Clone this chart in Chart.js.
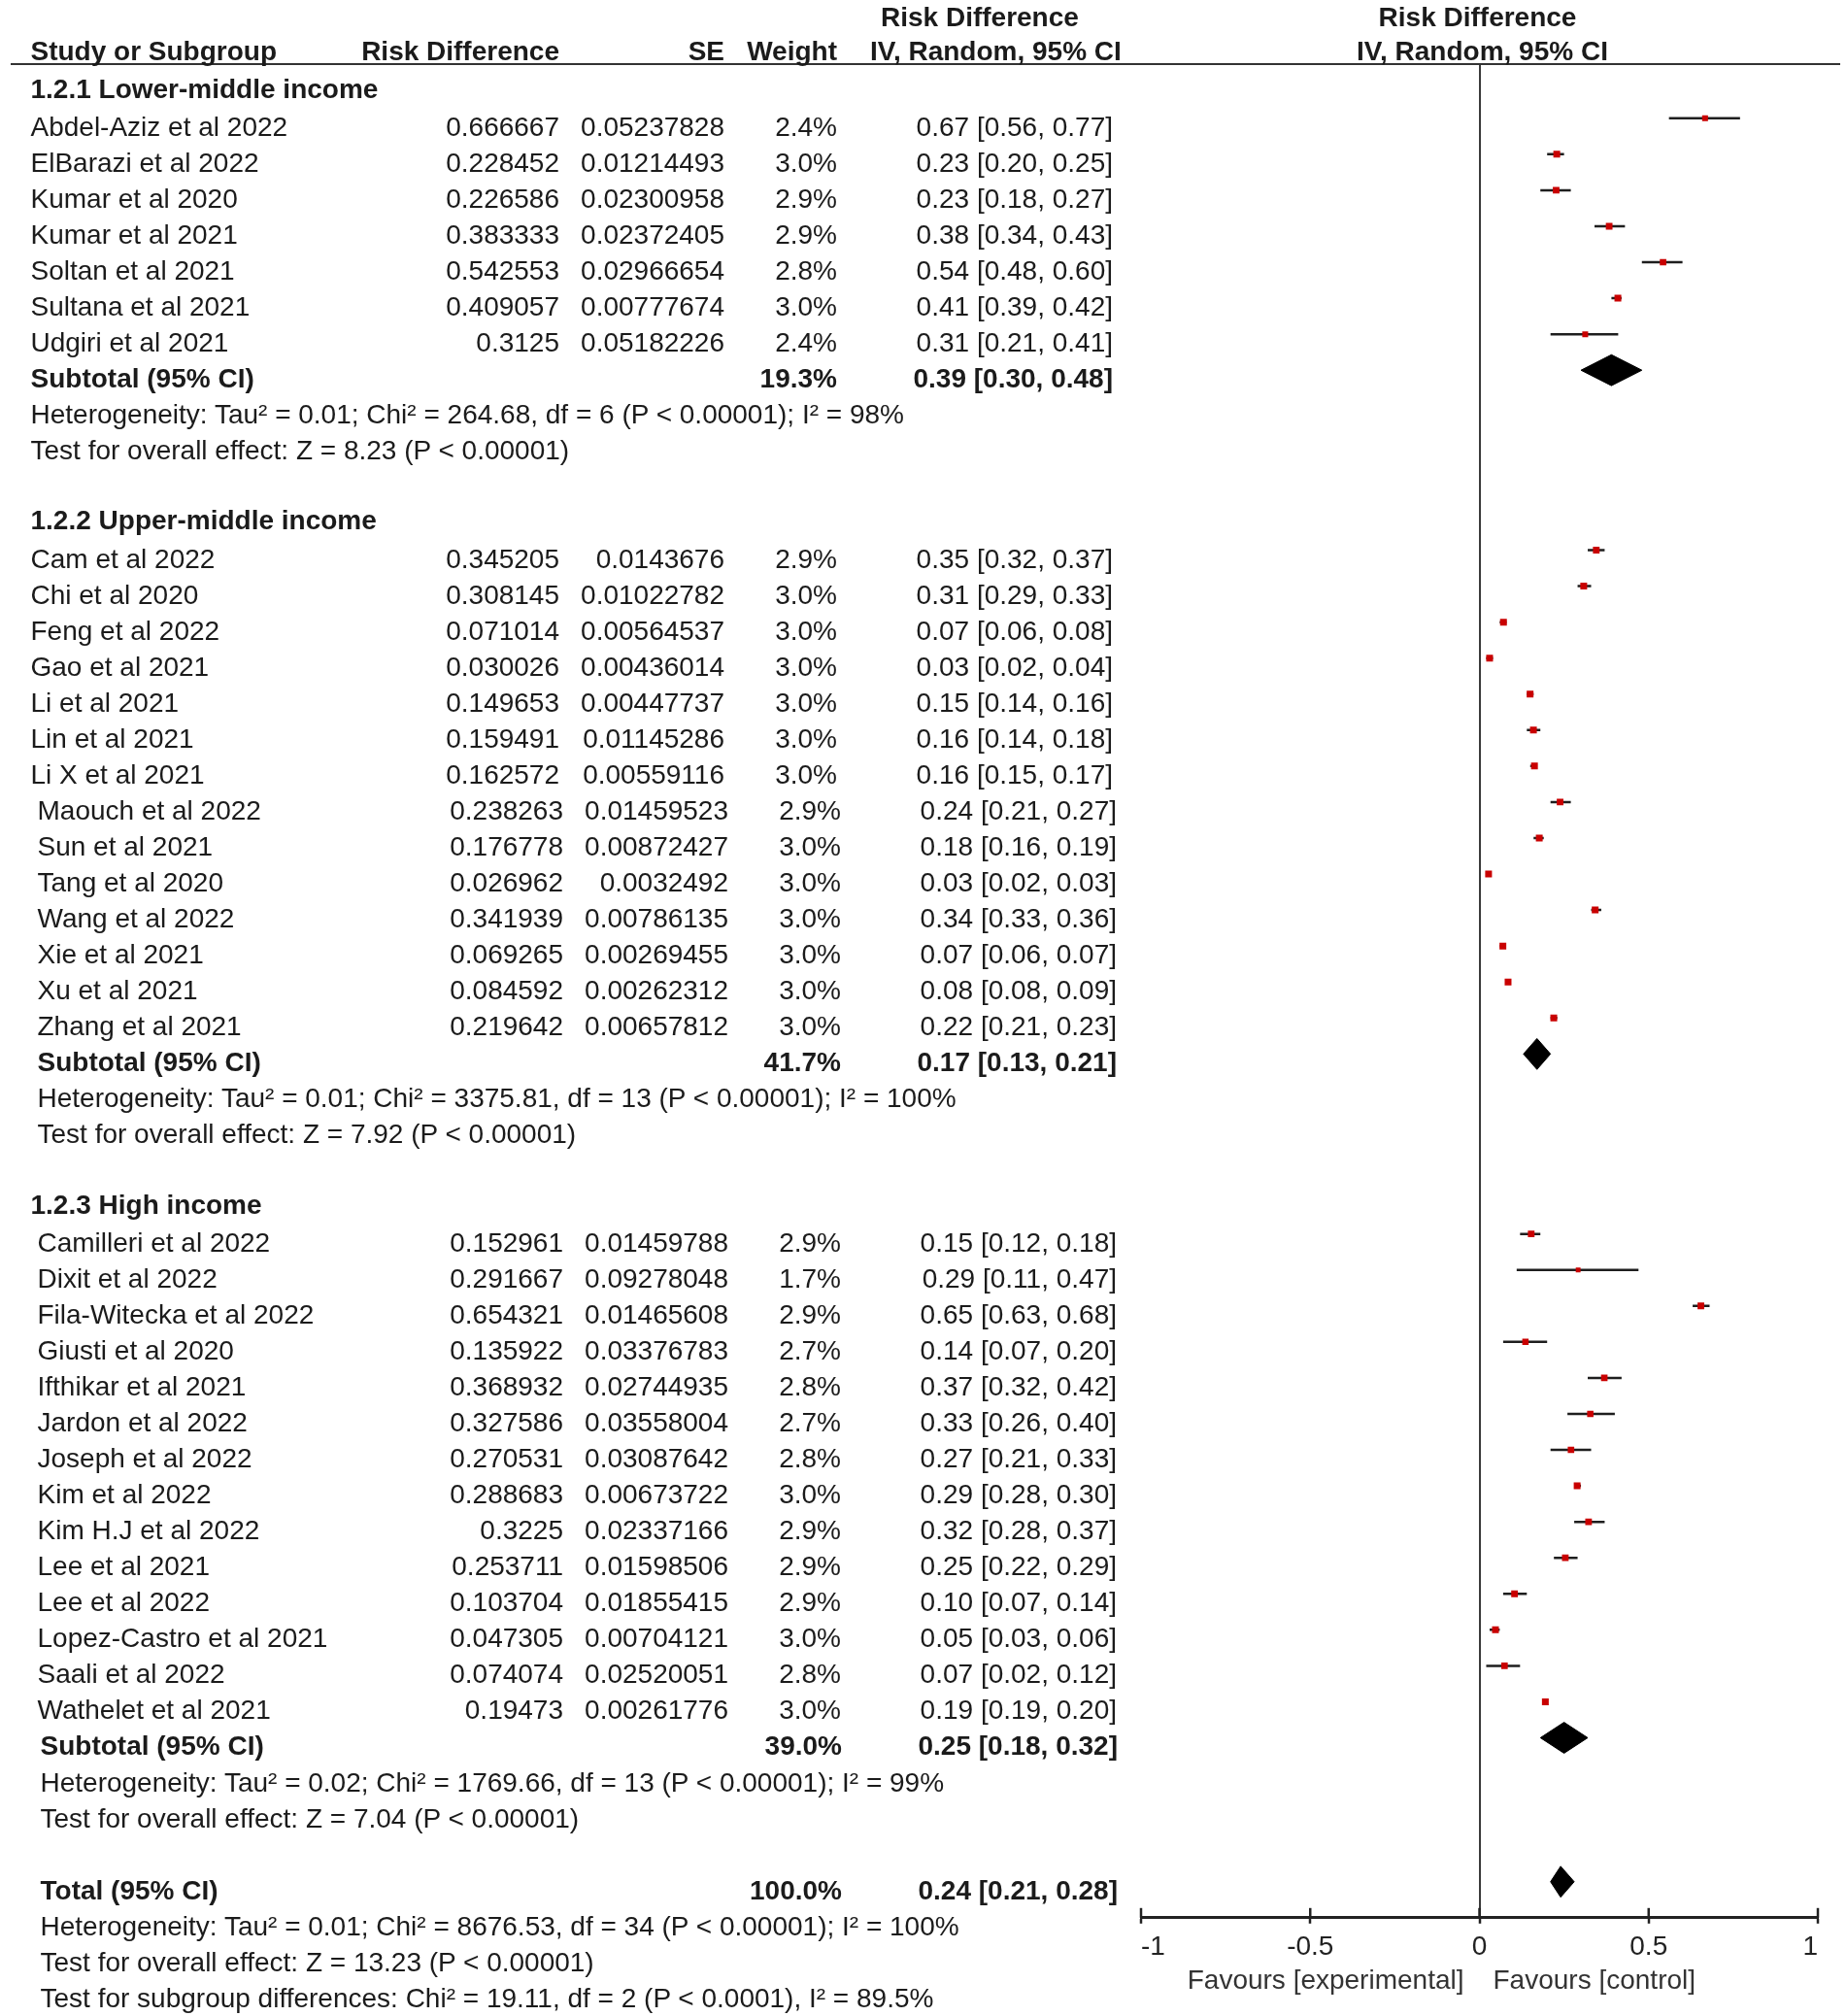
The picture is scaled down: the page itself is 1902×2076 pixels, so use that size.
<!DOCTYPE html>
<html>
<head>
<meta charset="utf-8">
<script src="https://cdn.jsdelivr.net/npm/chart.js@4"></script>
<style>
  body { margin: 0; background: #fff; }
  #wrap { position: relative; width: 1902px; height: 2076px; overflow: hidden;
          font-family: "Liberation Sans", Arial, sans-serif; color: #1b1b1b; }
  #plot { position: absolute; left: 0; top: 0; }
  .t { position: absolute; white-space: nowrap; line-height: 1; font-size: 28px; }
  .b { font-weight: bold; }
  .rule { position: absolute; left: 11px; width: 1884px; top: 65px; height: 2px; background: #333; }
</style>
</head>
<body>
<div id="wrap">
  <canvas id="plot" width="1902" height="2076"></canvas>
  <div class="rule"></div>
</div>
<script>
const groupTitles = ['1.2.1 Lower-middle income', '1.2.2 Upper-middle income', '1.2.3 High income'];

const lowerNames = ['Abdel-Aziz et al 2022', 'ElBarazi et al 2022', 'Kumar et al 2020', 'Kumar et al 2021',
  'Soltan et al 2021', 'Sultana et al 2021', 'Udgiri et al 2021'];
const lowerRD = [0.666667, 0.228452, 0.226586, 0.383333, 0.542553, 0.409057, 0.3125];
const lowerSE = [0.05237828, 0.01214493, 0.02300958, 0.02372405, 0.02966654, 0.00777674, 0.05182226];
const lowerWeight = [2.4, 3.0, 2.9, 2.9, 2.8, 3.0, 2.4];
const lowerCI = ['0.67 [0.56, 0.77]', '0.23 [0.20, 0.25]', '0.23 [0.18, 0.27]', '0.38 [0.34, 0.43]',
  '0.54 [0.48, 0.60]', '0.41 [0.39, 0.42]', '0.31 [0.21, 0.41]'];

const upperNames = ['Cam et al 2022', 'Chi et al 2020', 'Feng et al 2022', 'Gao et al 2021', 'Li et al 2021',
  'Lin et al 2021', 'Li X et al 2021', 'Maouch et al 2022', 'Sun et al 2021', 'Tang et al 2020',
  'Wang et al 2022', 'Xie et al 2021', 'Xu et al 2021', 'Zhang et al 2021'];
const upperRD = [0.345205, 0.308145, 0.071014, 0.030026, 0.149653, 0.159491, 0.162572, 0.238263,
  0.176778, 0.026962, 0.341939, 0.069265, 0.084592, 0.219642];
const upperSE = [0.0143676, 0.01022782, 0.00564537, 0.00436014, 0.00447737, 0.01145286, 0.00559116,
  0.01459523, 0.00872427, 0.0032492, 0.00786135, 0.00269455, 0.00262312, 0.00657812];
const upperWeight = [2.9, 3.0, 3.0, 3.0, 3.0, 3.0, 3.0, 2.9, 3.0, 3.0, 3.0, 3.0, 3.0, 3.0];
const upperCI = ['0.35 [0.32, 0.37]', '0.31 [0.29, 0.33]', '0.07 [0.06, 0.08]', '0.03 [0.02, 0.04]',
  '0.15 [0.14, 0.16]', '0.16 [0.14, 0.18]', '0.16 [0.15, 0.17]', '0.24 [0.21, 0.27]', '0.18 [0.16, 0.19]',
  '0.03 [0.02, 0.03]', '0.34 [0.33, 0.36]', '0.07 [0.06, 0.07]', '0.08 [0.08, 0.09]', '0.22 [0.21, 0.23]'];

const highNames = ['Camilleri et al 2022', 'Dixit et al 2022', 'Fila-Witecka et al 2022', 'Giusti et al 2020',
  'Ifthikar et al 2021', 'Jardon et al 2022', 'Joseph et al 2022', 'Kim et al 2022', 'Kim H.J et al 2022',
  'Lee et al 2021', 'Lee et al 2022', 'Lopez-Castro et al 2021', 'Saali et al 2022', 'Wathelet et al 2021'];
const highRD = [0.152961, 0.291667, 0.654321, 0.135922, 0.368932, 0.327586, 0.270531, 0.288683, 0.3225,
  0.253711, 0.103704, 0.047305, 0.074074, 0.19473];
const highSE = [0.01459788, 0.09278048, 0.01465608, 0.03376783, 0.02744935, 0.03558004, 0.03087642,
  0.00673722, 0.02337166, 0.01598506, 0.01855415, 0.00704121, 0.02520051, 0.00261776];
const highWeight = [2.9, 1.7, 2.9, 2.7, 2.8, 2.7, 2.8, 3.0, 2.9, 2.9, 2.9, 3.0, 2.8, 3.0];
const highCI = ['0.15 [0.12, 0.18]', '0.29 [0.11, 0.47]', '0.65 [0.63, 0.68]', '0.14 [0.07, 0.20]',
  '0.37 [0.32, 0.42]', '0.33 [0.26, 0.40]', '0.27 [0.21, 0.33]', '0.29 [0.28, 0.30]', '0.32 [0.28, 0.37]',
  '0.25 [0.22, 0.29]', '0.10 [0.07, 0.14]', '0.05 [0.03, 0.06]', '0.07 [0.02, 0.12]', '0.19 [0.19, 0.20]'];

const subtotalWeight = [19.3, 41.7, 39.0];
const subtotalCI = ['0.39 [0.30, 0.48]', '0.17 [0.13, 0.21]', '0.25 [0.18, 0.32]'];
const heterogeneity = [
  'Heterogeneity: Tau² = 0.01; Chi² = 264.68, df = 6 (P < 0.00001); I² = 98%',
  'Heterogeneity: Tau² = 0.01; Chi² = 3375.81, df = 13 (P < 0.00001); I² = 100%',
  'Heterogeneity: Tau² = 0.02; Chi² = 1769.66, df = 13 (P < 0.00001); I² = 99%'
];
const overallEffect = [
  'Test for overall effect: Z = 8.23 (P < 0.00001)',
  'Test for overall effect: Z = 7.92 (P < 0.00001)',
  'Test for overall effect: Z = 7.04 (P < 0.00001)'
];
const totalWeight = 100.0;
const totalCI = '0.24 [0.21, 0.28]';
const totalHeterogeneity = 'Heterogeneity: Tau² = 0.01; Chi² = 8676.53, df = 34 (P < 0.00001); I² = 100%';
const totalEffect = 'Test for overall effect: Z = 13.23 (P < 0.00001)';
const subgroupTest = 'Test for subgroup differences: Chi² = 19.11, df = 2 (P < 0.0001), I² = 89.5%';

const xTicks = [-1, -0.5, 0, 0.5, 1];
const xTickLabels = ['-1', '-0.5', '0', '0.5', '1'];
const favours = ['Favours [experimental]', 'Favours [control]'];

// "0.67 [0.56, 0.77]" -> [0.67, 0.56, 0.77]
const parseCI = s => s.match(/-?\d*\.?\d+/g).map(Number);

// lay out the rows of the table, one index per line
const groups = [
  { names: lowerNames, rd: lowerRD, se: lowerSE, wt: lowerWeight, ci: lowerCI },
  { names: upperNames, rd: upperRD, se: upperSE, wt: upperWeight, ci: upperCI },
  { names: highNames, rd: highRD, se: highSE, wt: highWeight, ci: highCI }
];
const rows = [];
let r = -1;
groups.forEach((g, gi) => {
  rows.push({ row: r++, kind: 'title', name: groupTitles[gi], grp: gi });
  g.names.forEach((n, k) => rows.push({ row: r++, kind: 'study', name: n, rd: g.rd[k], se: g.se[k],
    wt: g.wt[k], ci: g.ci[k], grp: gi, k }));
  rows.push({ row: r++, kind: 'sub', name: 'Subtotal (95% CI)', wt: subtotalWeight[gi], ci: subtotalCI[gi], grp: gi });
  rows.push({ row: r++, kind: 'note', name: heterogeneity[gi], grp: gi });
  rows.push({ row: r++, kind: 'note', name: overallEffect[gi], grp: gi });
  r++;
});
rows.push({ row: r++, kind: 'sub', name: 'Total (95% CI)', wt: totalWeight, ci: totalCI, grp: 3 });
rows.push({ row: r++, kind: 'note', name: totalHeterogeneity, grp: 3 });
rows.push({ row: r++, kind: 'note', name: totalEffect, grp: 3 });
rows.push({ row: r++, kind: 'note', name: subgroupTest, grp: 3 });

const studies = rows.filter(x => x.kind === 'study');
const pooled = rows.filter(x => x.kind === 'sub');

const squareData = studies.map(s => ({ x: s.rd, y: s.row, w: s.wt }));
const ciData = [];
studies.forEach(s => {
  const [, lo, hi] = parseCI(s.ci);
  ciData.push({ x: lo, y: s.row }, { x: hi, y: s.row }, { x: hi, y: null });
});

const datasets = [
  {
    type: 'scatter', data: squareData, order: 0,
    pointStyle: 'rect', pointBackgroundColor: '#c90000', pointBorderWidth: 0,
    pointRadius: c => (2.2 + 1.6 * c.raw.w) / Math.SQRT2
  },
  {
    type: 'line', data: ciData, order: 1, showLine: true, spanGaps: false, fill: false,
    borderColor: '#1e1e1e', borderWidth: 2.5, pointRadius: 0, tension: 0
  }
];
pooled.forEach(p => {
  const [est, lo, hi] = parseCI(p.ci);
  const h = 0.43;
  datasets.push({
    type: 'line', order: 2, showLine: true, fill: 'shape', tension: 0,
    data: [{ x: lo, y: p.row }, { x: est, y: p.row - h }, { x: hi, y: p.row }, { x: est, y: p.row + h }, { x: lo, y: p.row }],
    borderColor: '#000', backgroundColor: '#000', borderWidth: 1, pointRadius: 0
  });
});

// small tick halves above the axis line
const tickUp = {
  id: 'tickUp',
  afterDraw(c) {
    const xs = c.scales.x, g = c.ctx;
    g.save();
    g.strokeStyle = '#222';
    g.lineWidth = 2.5;
    xs.ticks.forEach(t => {
      const px = xs.getPixelForValue(t.value);
      g.beginPath();
      g.moveTo(px, xs.top);
      g.lineTo(px, xs.top - 10);
      g.stroke();
    });
    g.restore();
  }
};

const FONT = "'Liberation Sans', Arial, sans-serif";

const chart = new Chart(document.getElementById('plot'), {
  type: 'scatter',
  data: { datasets },
  plugins: [tickUp],
  options: {
    responsive: false,
    animation: false,
    events: [],
    layout: { padding: { left: 1175, right: 30, top: 66.2, bottom: 21.2 } },
    plugins: { legend: { display: false }, tooltip: { enabled: false } },
    scales: {
      x: {
        type: 'linear', min: -1, max: 1,
        afterBuildTicks: s => { s.ticks = xTicks.map(v => ({ value: v })); },
        afterFit: s => { s.height = 80; },
        ticks: {
          align: 'inner', color: '#222', font: { family: FONT, size: 28 }, padding: 8,
          callback: (v, i) => xTickLabels[i]
        },
        grid: {
          drawOnChartArea: true,
          color: c => (c.tick && c.tick.value === 0) ? '#3a3a3a' : 'rgba(0,0,0,0)',
          lineWidth: 2, tickLength: 6, tickColor: '#222', tickWidth: 2.5
        },
        border: { display: true, color: '#222', width: 3 }
      },
      y: { type: 'linear', display: false, reverse: true, min: -1.5, max: 50 }
    }
  }
});

// table text, placed against the chart's own row scale
const wrap = document.getElementById('wrap');
function put(txt, x, y, align, bold, color) {
  const d = document.createElement('div');
  d.className = 't' + (bold ? ' b' : '');
  d.textContent = txt;
  d.style.top = y + 'px';
  if (align === 'right') {
    d.style.right = (1902 - x) + 'px';
    d.style.transform = 'translateY(-50%)';
  } else if (align === 'center') {
    d.style.left = x + 'px';
    d.style.transform = 'translate(-50%, -50%)';
  } else {
    d.style.left = x + 'px';
    d.style.transform = 'translateY(-50%)';
  }
  if (color) d.style.color = color;
  wrap.appendChild(d);
}

const ys = chart.scales.y, xs = chart.scales.x;
const zeroX = xs.getPixelForValue(0);
const col = { name: 31.5, rd: 576, se: 746, wt: 862, ci: 1146 };

// header
put('Risk Difference', 907, 18, 'left', true);
put('Risk Difference', zeroX - 2, 18, 'center', true);
put('Study or Subgroup', col.name, 53, 'left', true);
put('Risk Difference', col.rd, 53, 'right', true);
put('SE', col.se, 53, 'right', true);
put('Weight', col.wt, 53, 'right', true);
put('IV, Random, 95% CI', 896, 53, 'left', true);
put('IV, Random, 95% CI', zeroX + 3, 53, 'center', true);

function shift(row) {
  if (row.kind === 'title') return [0, 0];
  if (row.grp === 1 && (row.kind !== 'study' || row.k >= 7)) return [7, 4];
  if (row.grp === 2 && row.kind === 'study') return [7, 4];
  if (row.grp >= 2) return [10, 5];
  return [0, 0];
}

rows.forEach(row => {
  const y = ys.getPixelForValue(row.row) + 9;
  const [dl, dn] = shift(row);
  if (row.kind === 'title') {
    put(row.name, col.name, y - 2, 'left', true);
  } else if (row.kind === 'note') {
    put(row.name, col.name + dl, y, 'left', false);
  } else if (row.kind === 'study') {
    put(row.name, col.name + dl, y, 'left', false);
    put(String(row.rd), col.rd + dn, y, 'right', false);
    put(String(row.se), col.se + dn, y, 'right', false);
    put(row.wt.toFixed(1) + '%', col.wt + dn, y, 'right', false);
    put(row.ci, col.ci + dn, y, 'right', false);
  } else {
    put(row.name, col.name + dl, y, 'left', true);
    put(row.wt.toFixed(1) + '%', col.wt + dn, y, 'right', true);
    put(row.ci, col.ci + dn, y, 'right', true);
  }
});

put(favours[0], zeroX - 16, 2039, 'right', false, '#333');
put(favours[1], zeroX + 14, 2039, 'left', false, '#333');
</script>
</body>
</html>
